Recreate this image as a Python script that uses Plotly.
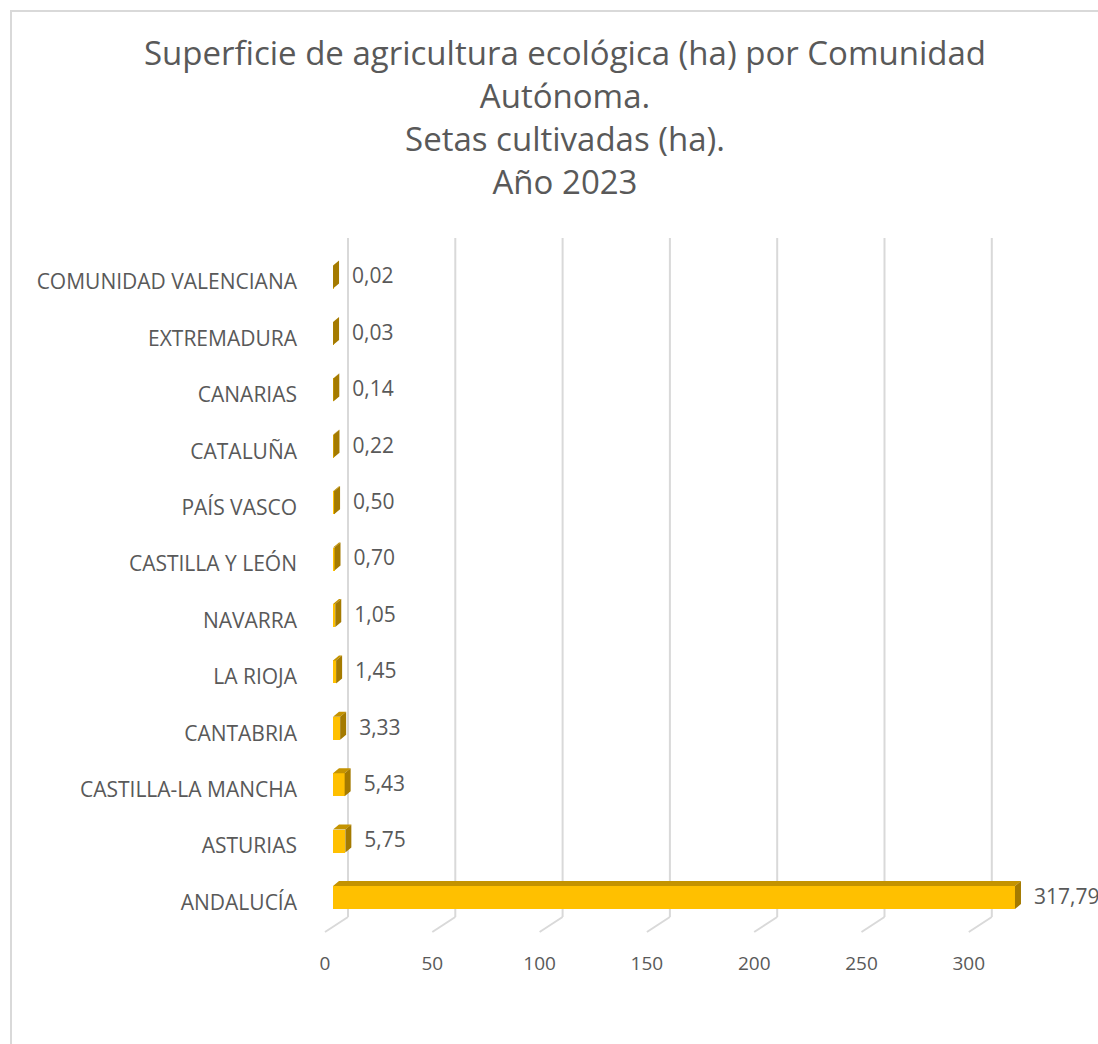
import plotly.graph_objects as go

# ---------------- data ----------------
regions = ["ANDALUCÍA", "ASTURIAS", "CASTILLA-LA MANCHA", "CANTABRIA", "LA RIOJA",
           "NAVARRA", "CASTILLA Y LEÓN", "PAÍS VASCO", "CATALUÑA", "CANARIAS",
           "EXTREMADURA", "COMUNIDAD VALENCIANA"]
values = [317.79, 5.75, 5.43, 3.33, 1.45, 1.05, 0.70, 0.50, 0.22, 0.14, 0.03, 0.02]
x_ticks = [0, 50, 100, 150, 200, 250, 300]
title_lines = ["Superficie de agricultura ecológica (ha) por Comunidad", "Autónoma.",
               "Setas cultivadas (ha).", "Año 2023"]

# ---------------- layout geometry ----------------
W, H = 1098, 1044
L, R, T, B = 305, 0, 230, 109
plot_w = W - L - R
plot_h = H - T - B
px_per_unit = 2.146          # horizontal pixels per ha
px_per_cat = 56.4            # vertical pixels per category
x0_px = 333 - L              # pixel of value 0 inside plot area
xr = [-x0_px / px_per_unit, (plot_w - x0_px) / px_per_unit]
y0_px = (H - B) - 897.5      # pixel distance from bottom of plot to category 0
yr = [-y0_px / px_per_cat, (plot_h - y0_px) / px_per_cat]

def dx(p):
    return p / px_per_unit

def dy(p):
    return p / px_per_cat

bar_w = dy(23)
depth_x, depth_y = dx(6), dy(5)
wall_x = dx(15)
floor_back = dy(-19.5)
floor_front = dy(-34.5)
floor_dx = dx(-23)
grid_top = yr[1] - dy(8)

FRONT = "#FFC000"
TOP = "#C49300"
SIDE = "#A47A00"
TXT = "#595959"
GRID = "#D9D9D9"
FONT = "Open Sans"

idx = list(range(len(regions)))

fig = go.Figure()

# front faces
fig.add_trace(go.Bar(x=values, y=idx, orientation="h", width=bar_w,
                     marker=dict(color=FRONT, line=dict(width=0)),
                     hoverinfo="skip", showlegend=False))

# top faces
tx, ty = [], []
for i, v in zip(idx, values):
    yt = i + bar_w / 2
    tx += [0, v, v + depth_x, depth_x, 0, None]
    ty += [yt, yt, yt + depth_y, yt + depth_y, yt, None]
fig.add_trace(go.Scatter(x=tx, y=ty, mode="none", fill="toself", fillcolor=TOP,
                         hoverinfo="skip", showlegend=False))

# side (end) faces
sx, sy = [], []
for i, v in zip(idx, values):
    yb, yt = i - bar_w / 2, i + bar_w / 2
    sx += [v, v + depth_x, v + depth_x, v, v, None]
    sy += [yb, yb + depth_y, yt + depth_y, yt, yb, None]
fig.add_trace(go.Scatter(x=sx, y=sy, mode="none", fill="toself", fillcolor=SIDE,
                         hoverinfo="skip", showlegend=False))

# value labels
labels = [f"{v:.2f}".replace(".", ",") for v in values]
fig.add_trace(go.Scatter(x=[v + depth_x + dx(13) for v in values], y=[i - dy(1) for i in idx],
                         mode="text", text=labels, textposition="middle right",
                         textfont=dict(family=FONT, size=21, color=TXT),
                         cliponaxis=False, hoverinfo="skip", showlegend=False))

# gridlines on back wall + floor
shapes = []
for t in x_ticks:
    xb = t + wall_x
    shapes.append(dict(type="line", xref="x", yref="y", x0=xb, x1=xb, y0=floor_back, y1=grid_top,
                       line=dict(color=GRID, width=2), layer="below"))
    shapes.append(dict(type="line", xref="x", yref="y", x0=xb, x1=xb + floor_dx,
                       y0=floor_back, y1=floor_front,
                       line=dict(color=GRID, width=2), layer="below"))
# chart area border
shapes.append(dict(type="rect", xref="paper", yref="paper",
                   x0=(11 - L) / plot_w, x1=(W + 20 - L) / plot_w,
                   y0=-(B + 20) / plot_h, y1=1 + (T - 11) / plot_h,
                   line=dict(color=GRID, width=2), fillcolor="rgba(0,0,0,0)", layer="below"))

fig.update_layout(
    width=W, height=H,
    margin=dict(l=L, r=R, t=T, b=B, pad=0),
    paper_bgcolor="white", plot_bgcolor="white",
    shapes=shapes,
    title=dict(text="<br>".join(title_lines), x=565 / W, xanchor="center",
               y=1 - 65 / H, yanchor="top", yref="container",
               font=dict(family=FONT, size=33, color=TXT)),
    xaxis=dict(range=xr, showgrid=False, zeroline=False, showline=False,
               tickvals=[t + floor_dx + wall_x for t in x_ticks],
               ticktext=[str(t) for t in x_ticks], ticks="",
               tickfont=dict(family=FONT, size=19, color=TXT), ticklabelstandoff=15),
    yaxis=dict(range=yr, showgrid=False, zeroline=False, showline=False,
               tickvals=[i - dy(5) for i in idx], ticktext=regions, ticks="",
               tickfont=dict(family=FONT, size=21, color=TXT), ticklabelstandoff=7),
    bargap=0,
)

fig.write_html("out.html", config={"displayModeBar": False},
               post_script="document.body.style.margin='0';document.body.style.overflow='hidden';")
